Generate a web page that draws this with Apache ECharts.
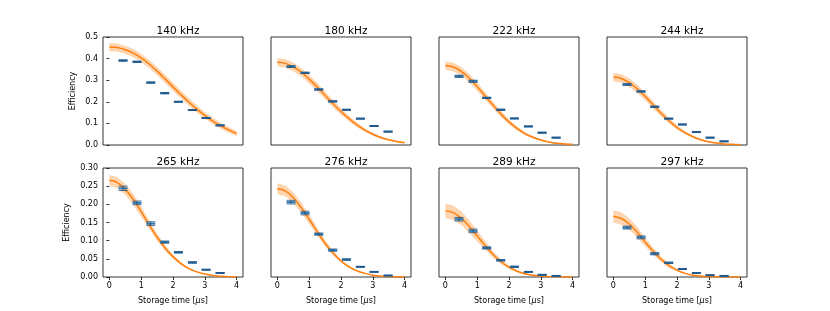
<!DOCTYPE html>
<html><head><meta charset="utf-8">
<script src="https://cdn.jsdelivr.net/npm/echarts@6/dist/echarts.min.js"></script>
<style>html,body{margin:0;padding:0;background:#fff}#c{width:830px;height:311px}</style>
</head><body><div id="c"></div>
<script>
const titles = ['140 kHz', '180 kHz', '222 kHz', '244 kHz', '265 kHz', '276 kHz', '289 kHz', '297 kHz'];
const tFit = [0, 0.25, 0.5, 0.75, 1, 1.25, 1.5, 1.75, 2, 2.25, 2.5, 2.75, 3, 3.25, 3.5, 3.75, 4];
const tData = [0.43, 0.87, 1.30, 1.74, 2.17, 2.61, 3.04, 3.48];
const xTicks = [0, 1, 2, 3, 4];

const fit140 = [0.454,0.451,0.441,0.425,0.403,0.375,0.342,0.306,0.269,0.233,0.198,0.166,0.137,0.111,0.089,0.070,0.053];
const fit180 = [0.383,0.378,0.362,0.337,0.305,0.269,0.230,0.191,0.155,0.122,0.093,0.069,0.050,0.035,0.024,0.016,0.010];
const fit222 = [0.368,0.361,0.341,0.309,0.270,0.227,0.184,0.143,0.107,0.077,0.053,0.036,0.023,0.014,0.008,0.005,0.003];
const fit244 = [0.315,0.308,0.289,0.260,0.225,0.186,0.147,0.112,0.081,0.057,0.038,0.024,0.015,0.009,0.005,0.003,0.001];
const fit265 = [0.266,0.260,0.241,0.214,0.180,0.144,0.110,0.080,0.056,0.037,0.023,0.014,0.008,0.004,0.002,0.001,0.001];
const fit276 = [0.243,0.237,0.218,0.191,0.159,0.125,0.093,0.066,0.044,0.028,0.017,0.010,0.005,0.003,0.001,0.001,0.000];
const fit289 = [0.182,0.177,0.162,0.139,0.113,0.087,0.062,0.042,0.027,0.016,0.009,0.005,0.003,0.001,0.001,0.000,0.000];
const fit297 = [0.167,0.161,0.146,0.123,0.096,0.071,0.049,0.031,0.019,0.010,0.005,0.003,0.001,0.001,0.000,0.000,0.000];

const band140 = [0.019,0.019,0.019,0.019,0.019,0.019,0.019,0.019,0.019,0.018,0.018,0.017,0.016,0.015,0.014,0.013,0.012];
const band180 = [0.020,0.020,0.020,0.020,0.020,0.019,0.018,0.017,0.015,0.013,0.011,0.009,0.007,0.006,0.004,0.003,0.002];
const band222 = [0.020,0.020,0.020,0.020,0.019,0.018,0.016,0.014,0.012,0.010,0.008,0.006,0.004,0.003,0.002,0.001,0.001];
const band244 = [0.020,0.020,0.020,0.019,0.018,0.017,0.015,0.013,0.010,0.008,0.006,0.004,0.003,0.002,0.001,0.001,0.000];
const band265 = [0.015,0.015,0.015,0.015,0.014,0.012,0.010,0.008,0.006,0.004,0.003,0.002,0.001,0.001,0.000,0.000,0.000];
const band276 = [0.015,0.015,0.015,0.014,0.013,0.011,0.009,0.007,0.005,0.003,0.002,0.001,0.001,0.000,0.000,0.000,0.000];
const band289 = [0.020,0.020,0.019,0.017,0.015,0.012,0.009,0.007,0.005,0.003,0.002,0.001,0.001,0.000,0.000,0.000,0.000];
const band297 = [0.017,0.017,0.016,0.015,0.012,0.010,0.008,0.006,0.004,0.002,0.001,0.001,0.000,0.000,0.000,0.000,0.000];

const d140 = [0.391,0.385,0.289,0.240,0.200,0.162,0.125,0.091];
const d180 = [0.363,0.334,0.257,0.202,0.163,0.122,0.088,0.062];
const d222 = [0.318,0.295,0.218,0.163,0.123,0.086,0.057,0.034];
const d244 = [0.280,0.248,0.177,0.122,0.095,0.060,0.034,0.017];
const d265 = [0.244,0.204,0.147,0.096,0.068,0.040,0.020,0.011];
const d276 = [0.206,0.176,0.118,0.074,0.048,0.028,0.014,0.004];
const d289 = [0.159,0.127,0.080,0.046,0.028,0.014,0.006,0.003];
const d297 = [0.136,0.109,0.064,0.039,0.022,0.011,0.005,0.003];

const e140 = [0.003,0.003,0.003,0.003,0.002,0.002,0.002,0.002];
const e180 = [0.004,0.003,0.003,0.003,0.002,0.002,0.002,0.002];
const e222 = [0.005,0.005,0.003,0.003,0.002,0.002,0.002,0.002];
const e244 = [0.004,0.003,0.003,0.002,0.002,0.002,0.002,0.002];
const e265 = [0.006,0.005,0.005,0.003,0.002,0.002,0.001,0.001];
const e276 = [0.005,0.005,0.003,0.003,0.002,0.001,0.001,0.001];
const e289 = [0.005,0.005,0.003,0.002,0.002,0.001,0.001,0.001];
const e297 = [0.004,0.004,0.003,0.002,0.001,0.001,0.001,0.001];

const fits = [fit140, fit180, fit222, fit244, fit265, fit276, fit289, fit297];
const bands = [band140, band180, band222, band244, band265, band276, band289, band297];
const datas = [d140, d180, d222, d244, d265, d276, d289, d297];
const errs = [e140, e180, e222, e244, e265, e276, e289, e297];

const FONT = 'DejaVu Sans';
const lefts = [103, 271, 439, 607];
const W = 140;
const tops = [37, 168];
const Hs = [108, 109];

const grid = [], xAxis = [], yAxis = [], series = [], title = [];
for (let p = 0; p < 8; p++) {
  const row = Math.floor(p / 4), col = p % 4;
  grid.push({left: lefts[col], top: tops[row], width: W, height: Hs[row],
    show: true, borderColor: '#000', borderWidth: 0.8, backgroundColor: 'transparent'});
  title.push({text: titles[p], left: lefts[col] + W / 2, top: row === 0 ? 21 : 152, textAlign: 'center',
    textStyle: {fontFamily: FONT, fontSize: 10.5, fontWeight: 'normal', color: '#000'}});
  const bottom = row === 1;
  xAxis.push({type: 'value', gridIndex: p, min: -0.2, max: 4.2,
    axisLine: {show: false}, splitLine: {show: false},
    axisTick: {show: bottom, length: 3, lineStyle: {color: '#000', width: 0.8}, customValues: xTicks},
    axisLabel: {show: bottom, margin: 5, fontFamily: FONT, fontSize: 8, color: '#000', customValues: xTicks,
      formatter: v => String(v)},
    name: bottom ? '{a|Storage time [}{b|μ}{a|s]}' : '', nameLocation: 'middle', nameGap: 20,
    nameTextStyle: {rich: {a: {fontFamily: FONT, fontSize: 8, color: '#000'}, b: {fontFamily: FONT, fontSize: 8, fontStyle: 'italic', color: '#000'}}}
  });
  const first = col === 0;
  yAxis.push({type: 'value', gridIndex: p, min: 0, max: row === 0 ? 0.5 : 0.3, interval: row === 0 ? 0.1 : 0.05,
    axisLine: {show: false}, splitLine: {show: false},
    axisTick: {show: first, length: 3, lineStyle: {color: '#000', width: 0.8}},
    axisLabel: {show: first, margin: 5, fontFamily: FONT, fontSize: 8, color: '#000',
      formatter: v => v.toFixed(row === 0 ? 1 : 2)},
    name: first ? 'Efficiency' : '', nameLocation: 'middle', nameGap: row === 0 ? 26 : 32,
    nameTextStyle: {fontFamily: FONT, fontSize: 8, color: '#000'}
  });
  const fit = fits[p], band = bands[p];
  series.push({type: 'custom', xAxisIndex: p, yAxisIndex: p, silent: true, z: 1,
    data: [[tFit[0], fit[0]]],
    renderItem: (params, api) => {
      const pts = [];
      for (let i = 0; i < tFit.length; i++) pts.push(api.coord([tFit[i], fit[i] + band[i]]));
      for (let i = tFit.length - 1; i >= 0; i--) pts.push(api.coord([tFit[i], Math.max(0, fit[i] - band[i])]));
      return {type: 'polygon', shape: {points: pts}, style: {fill: 'rgba(255,127,14,0.33)', stroke: null}};
    }
  });
  series.push({type: 'line', xAxisIndex: p, yAxisIndex: p, z: 2, smooth: 0.4, showSymbol: false, silent: true,
    data: tFit.map((t, i) => [t, fit[i]]),
    lineStyle: {color: '#ff7f0e', width: 1.5}});
  const d = datas[p], e = errs[p];
  series.push({type: 'custom', xAxisIndex: p, yAxisIndex: p, z: 3, silent: true,
    data: tData.map((t, i) => [t, d[i], e[i]]),
    renderItem: (params, api) => {
      const x = api.value(0), y = api.value(1), er = api.value(2);
      const c = api.coord([x, y]), hi = api.coord([x, y + er]), lo = api.coord([x, Math.max(0, y - er)]);
      const hw = 4.5, ec = '#1f4f7f';
      return {type: 'group', children: [
        {type: 'line', shape: {x1: c[0] - hw, y1: c[1], x2: c[0] + hw, y2: c[1]}, style: {stroke: '#2b7bb9', lineWidth: 2}},
        {type: 'line', shape: {x1: c[0], y1: hi[1], x2: c[0], y2: lo[1]}, style: {stroke: ec, lineWidth: 0.8}},
        {type: 'line', shape: {x1: c[0] - hw, y1: hi[1], x2: c[0] + hw, y2: hi[1]}, style: {stroke: ec, lineWidth: 0.8}},
        {type: 'line', shape: {x1: c[0] - hw, y1: lo[1], x2: c[0] + hw, y2: lo[1]}, style: {stroke: ec, lineWidth: 0.8}}
      ]};
    }
  });
}

const chart = echarts.init(document.getElementById('c'), null, {renderer: 'canvas'});
chart.setOption({animation: false, backgroundColor: '#fff', title, grid, xAxis, yAxis, series});
</script>
</body></html>
